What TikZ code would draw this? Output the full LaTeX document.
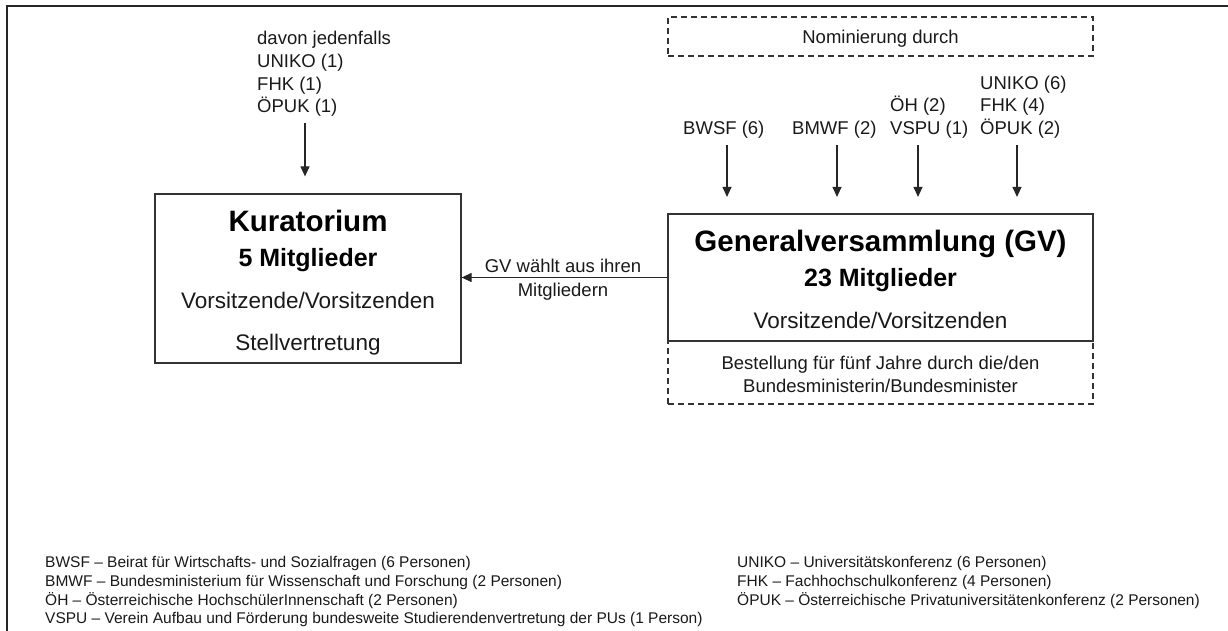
\documentclass[tikz,border=0pt]{standalone}
\usepackage{fontspec}
\setmainfont{Liberation Sans}
\usetikzlibrary{arrows.meta}
\tikzset{
  box/.style={draw=black!80, line width=1.2pt, inner sep=0pt},
  dbox/.style={box, dash pattern=on 6pt off 4pt},
  txt/.style={inner sep=0pt, anchor=base, text=black!90},
  ltxt/.style={txt, anchor=base west},
  ttl/.style={font=\fontsize{29.5}{32}\selectfont\bfseries, text=black},
  mem/.style={font=\fontsize{25}{28}\selectfont\bfseries, text=black},
  big/.style={font=\fontsize{22.5}{26}\selectfont},
  mid/.style={font=\fontsize{18.5}{22}\selectfont},
  sml/.style={font=\fontsize{15.5}{18}\selectfont},
  arr/.style={draw=black!85, line width=1.2pt, -{Triangle[width=9pt,length=10pt]}}
}
\begin{document}
\begin{tikzpicture}[x=1pt,y=-1pt]
\useasboundingbox (0,0) rectangle (1228,631);
% frame
\draw[line width=1.6pt, black!85] (7,631) -- (7,6) -- (1228,6);

% boxes
\node[box, minimum width=306pt, minimum height=169pt] (kur) at (308,278.5) {};
\node[box, minimum width=425pt, minimum height=127pt] (gv) at (880.5,277.5) {};
\node[dbox, minimum width=425pt, minimum height=39pt] (nom) at (880.5,36.5) {};
\node[dbox, minimum width=425pt, minimum height=63pt] (best) at (880.5,372.5) {};

% Kuratorium texts
\node[txt, ttl] (kt1) at (308,231.7) {Kuratorium};
\node[txt, mem] (kt2) at (308,266) {5 Mitglieder};
\node[txt, big] (kt3) at (308,308) {Vorsitzende/Vorsitzenden};
\node[txt, big] (kt4) at (308,350) {Stellvertretung};

% GV texts
\node[txt, ttl] (gt1) at (880.5,251.7) {Generalversammlung (GV)};
\node[txt, mem] (gt2) at (880.5,286) {23 Mitglieder};
\node[txt, big] (gt3) at (880.5,328) {Vorsitzende/Vorsitzenden};

% dashed box texts
\node[txt, mid] (nt) at (880.5,43.5) {Nominierung durch};
\node[txt, mid] (bt1) at (880.5,369.3) {Bestellung für fünf Jahre durch die/den};
\node[txt, mid] (bt2) at (880.5,392.7) {Bundesministerin/Bundesminister};

% top-left label
\node[ltxt, mid] (d1) at (257,45) {davon jedenfalls};
\node[ltxt, mid] (d2) at (257,68) {UNIKO (1)};
\node[ltxt, mid] (d3) at (257,90.5) {FHK (1)};
\node[ltxt, mid] (d4) at (257,113) {ÖPUK (1)};

% top-right labels
\node[ltxt, mid] (l1) at (683,134.5) {BWSF (6)};
\node[ltxt, mid] (l2) at (792,134.5) {BMWF (2)};
\node[ltxt, mid] (l3a) at (890,112) {ÖH (2)};
\node[ltxt, mid] (l3b) at (890,134.5) {VSPU (1)};
\node[ltxt, mid] (l4a) at (980,89.5) {UNIKO (6)};
\node[ltxt, mid] (l4b) at (980,112) {FHK (4)};
\node[ltxt, mid] (l4c) at (980,134.5) {ÖPUK (2)};

% arrow starts
\coordinate (s0) at (305,123);
\coordinate (s1) at (727,145);
\coordinate (s2) at (837,145);
\coordinate (s3) at (918,145);
\coordinate (s4) at (1017,145);

\draw[arr, shorten >=17pt] (s0) -- (s0 |- kur.north);
\draw[arr, shorten >=16.5pt] (s1) -- (s1 |- gv.north);
\draw[arr, shorten >=16.5pt] (s2) -- (s2 |- gv.north);
\draw[arr, shorten >=16.5pt] (s3) -- (s3 |- gv.north);
\draw[arr, shorten >=16.5pt] (s4) -- (s4 |- gv.north);

% GV -> Kuratorium
\draw[arr] (gv.west) -- (gv.west -| kur.east);
\node[txt, mid] (w1) at (563,272.7) {GV wählt aus ihren};
\node[txt, mid] (w2) at (563,296.7) {Mitgliedern};

% legend
\node[ltxt, sml] (g1) at (45,567) {BWSF – Beirat für Wirtschafts- und Sozialfragen (6 Personen)};
\node[ltxt, sml] (g2) at (45,586) {BMWF – Bundesministerium für Wissenschaft und Forschung (2 Personen)};
\node[ltxt, sml] (g3) at (45,605) {ÖH – Österreichische HochschülerInnenschaft (2 Personen)};
\node[ltxt, sml] (g4) at (45,623) {VSPU – Verein Aufbau und Förderung bundesweite Studierendenvertretung der PUs (1 Person)};
\node[ltxt, sml] (g5) at (737,567) {UNIKO – Universitätskonferenz (6 Personen)};
\node[ltxt, sml] (g6) at (737,586) {FHK – Fachhochschulkonferenz (4 Personen)};
\node[ltxt, sml] (g7) at (737,605) {ÖPUK – Österreichische Privatuniversitätenkonferenz (2 Personen)};
\end{tikzpicture}
\end{document}
